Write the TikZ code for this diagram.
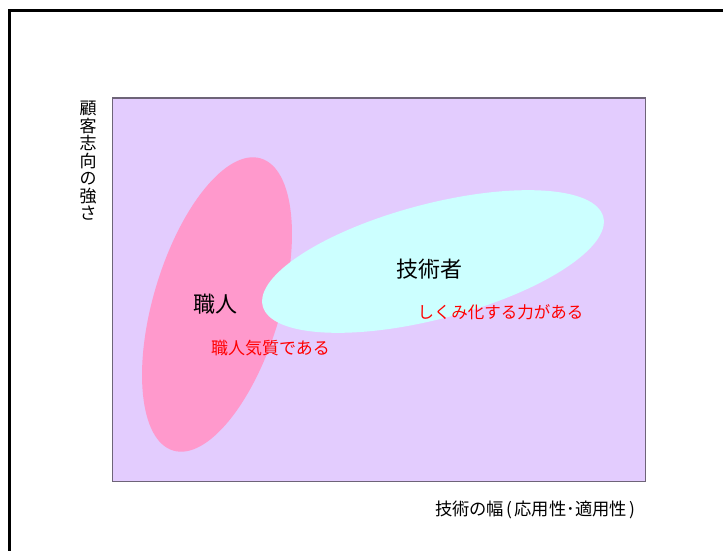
\documentclass[tikz,border=0pt]{standalone}
\usepackage{fontspec}
\setmainfont{Noto Sans CJK JP}
\usetikzlibrary{shapes.geometric}
\definecolor{lav}{HTML}{E3CCFE}
\definecolor{lavline}{HTML}{6E6478}
\definecolor{pinkfill}{HTML}{FF99CC}
\definecolor{cyanfill}{HTML}{CCFFFF}
\definecolor{redtext}{HTML}{FF0000}
\tikzset{
  blob/.style={ellipse, inner sep=0pt, draw=none},
  bigtext/.style={font=\fontsize{22}{24}\selectfont, text=black, inner sep=0pt},
  redlabel/.style={font=\fontsize{16.5}{18}\selectfont, text=redtext, inner sep=0pt},
  axislabel/.style={font=\fontsize{17}{17.5}\selectfont, text=black, inner sep=0pt},
}
\begin{document}
\begin{tikzpicture}[x=1pt,y=-1pt]
\useasboundingbox (0,0) rectangle (723,551);
% outer frame (top and left edges)
\coordinate (fA) at (9.5,551);
\coordinate (fB) at (9.5,10.8);
\coordinate (fC) at (723,10.8);
\draw[line width=2.8pt, line cap=rect] (fA) -- (fB) -- (fC);
% chart area
\coordinate (r1) at (112.5,98);
\coordinate (r2) at (645.5,481.5);
\draw[fill=lav, draw=lavline, line width=1.2pt] (r1) rectangle (r2);
% ellipses
\node[blob, fill=pinkfill, minimum width=305pt, minimum height=127pt, rotate=73.3] (shokunin) at (217,304.5) {};
\node[blob, fill=cyanfill, minimum width=352pt, minimum height=115pt, rotate=14.7] (gijutsu) at (433,261.5) {};
% texts
\node[bigtext] (t1) at (215,304) {職人};
\node[redlabel, font=\fontsize{17}{18}\selectfont] (t2) at (270.5,348.5) {職人気質である};
\node[bigtext] (t3) at (429.5,269) {技術者};
\node[redlabel] (t4) at (500.5,312) {しくみ化する力がある};
\node[axislabel, font=\fontsize{17.3}{17.5}\selectfont] (xl) at (535,510) {技術の幅\kern2.5pt(\kern2pt応用性･適用性\kern2pt)};
\node[axislabel, align=center] (yl) at (88,161) {顧\\客\\志\\向\\の\\強\\さ};
\end{tikzpicture}
\end{document}
